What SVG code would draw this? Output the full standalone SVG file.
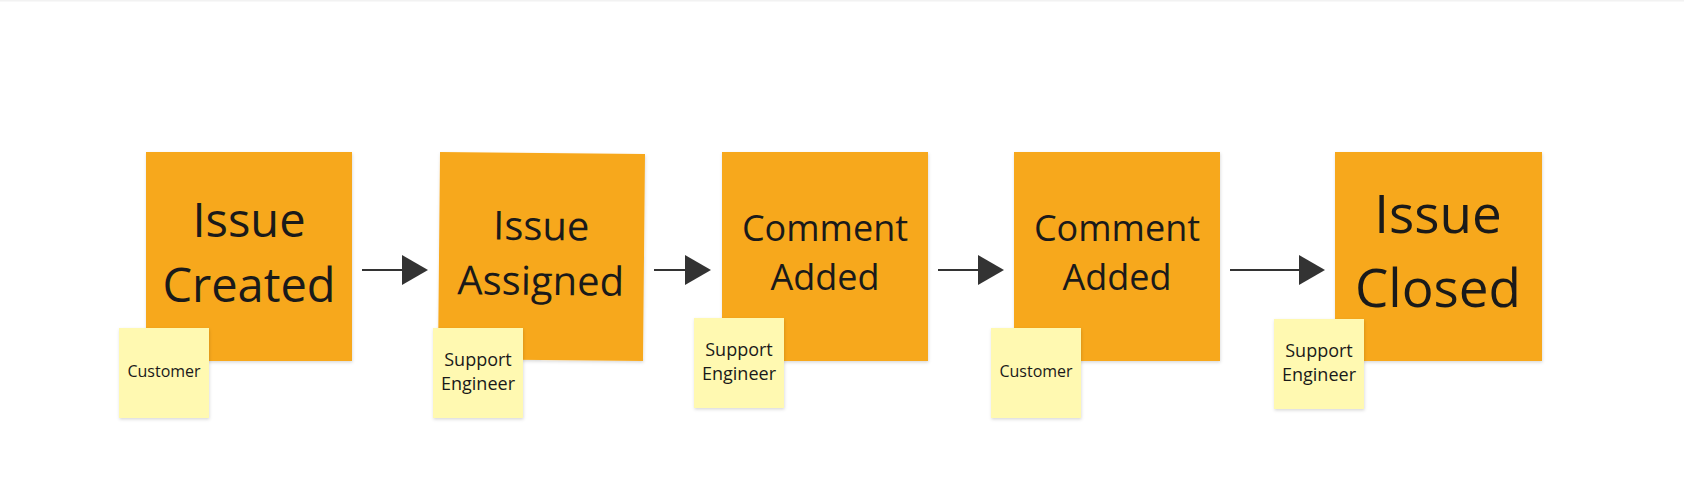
<svg xmlns="http://www.w3.org/2000/svg" width="1684" height="486" viewBox="0 0 1684 486">
  <defs>
    <style>
      .sticky { fill: #f7a81e; filter: url(#shadow); }
      .note { fill: #fff9b1; filter: url(#shadow); }
      .big { font-family: "Open Sans", "Noto Sans", sans-serif; fill: #1a1a1a; text-anchor: middle; }
      .small { font-family: "Open Sans", "Noto Sans", sans-serif; fill: #1a1a1a; text-anchor: middle; }
      .conn { stroke: #333333; stroke-width: 2; fill: none; marker-end: url(#arrow); }
    </style>
    <filter id="shadow" x="-10%" y="-10%" width="130%" height="130%">
      <feDropShadow dx="0.5" dy="1.5" stdDeviation="1.5" flood-color="#000000" flood-opacity="0.15"/>
    </filter>
    <marker id="arrow" viewBox="0 0 26 30" refX="18" refY="15" markerWidth="26" markerHeight="30" markerUnits="userSpaceOnUse" orient="auto">
      <path d="M0,0 L26,15 L0,30 z" fill="#333333"/>
    </marker>
  </defs>
  <rect x="0" y="0" width="1684" height="486" fill="#ffffff"/>
  <rect x="0" y="0" width="1684" height="1.5" fill="#f2f2f2"/>

  <g id="connectors">
    <path class="conn" d="M362,270 L420,270"/>
    <path class="conn" d="M654,270 L703,270"/>
    <path class="conn" d="M938,270 L996,270"/>
    <path class="conn" d="M1230,270 L1317,270"/>
  </g>

  <g id="issue-created">
    <rect class="sticky" x="146" y="152" width="206" height="209"/>
    <text class="big" x="249" y="237" font-size="47">Issue</text>
    <text class="big" x="249" y="302" font-size="47">Created</text>
  </g>
  <g id="issue-assigned" transform="rotate(0.56 541.5 256.5)">
    <rect class="sticky" x="439" y="153" width="205" height="207"/>
    <text class="big" x="541" y="240" font-size="40">Issue</text>
    <text class="big" x="541" y="295" font-size="40">Assigned</text>
  </g>
  <g id="comment-added-1">
    <rect class="sticky" x="722" y="152" width="206" height="209"/>
    <text class="big" x="825" y="241" font-size="36">Comment</text>
    <text class="big" x="825" y="290" font-size="36">Added</text>
  </g>
  <g id="comment-added-2">
    <rect class="sticky" x="1014" y="152" width="206" height="209"/>
    <text class="big" x="1117" y="241" font-size="36">Comment</text>
    <text class="big" x="1117" y="290" font-size="36">Added</text>
  </g>
  <g id="issue-closed">
    <rect class="sticky" x="1335" y="152" width="207" height="209"/>
    <text class="big" x="1438" y="233" font-size="53">Issue</text>
    <text class="big" x="1438" y="307" font-size="53">Closed</text>
  </g>

  <g id="note-customer-1">
    <rect class="note" x="119" y="328" width="90" height="90"/>
    <text class="small" x="164" y="377" font-size="16">Customer</text>
  </g>
  <g id="note-support-1">
    <rect class="note" x="433" y="328" width="90" height="90"/>
    <text class="small" x="478" y="366" font-size="18">Support</text>
    <text class="small" x="478" y="390" font-size="18">Engineer</text>
  </g>
  <g id="note-support-2">
    <rect class="note" x="694" y="318" width="90" height="90"/>
    <text class="small" x="739" y="356" font-size="18">Support</text>
    <text class="small" x="739" y="380" font-size="18">Engineer</text>
  </g>
  <g id="note-customer-2">
    <rect class="note" x="991" y="328" width="90" height="90"/>
    <text class="small" x="1036" y="377" font-size="16">Customer</text>
  </g>
  <g id="note-support-3">
    <rect class="note" x="1274" y="319" width="90" height="90"/>
    <text class="small" x="1319" y="357" font-size="18">Support</text>
    <text class="small" x="1319" y="381" font-size="18">Engineer</text>
  </g>
</svg>
